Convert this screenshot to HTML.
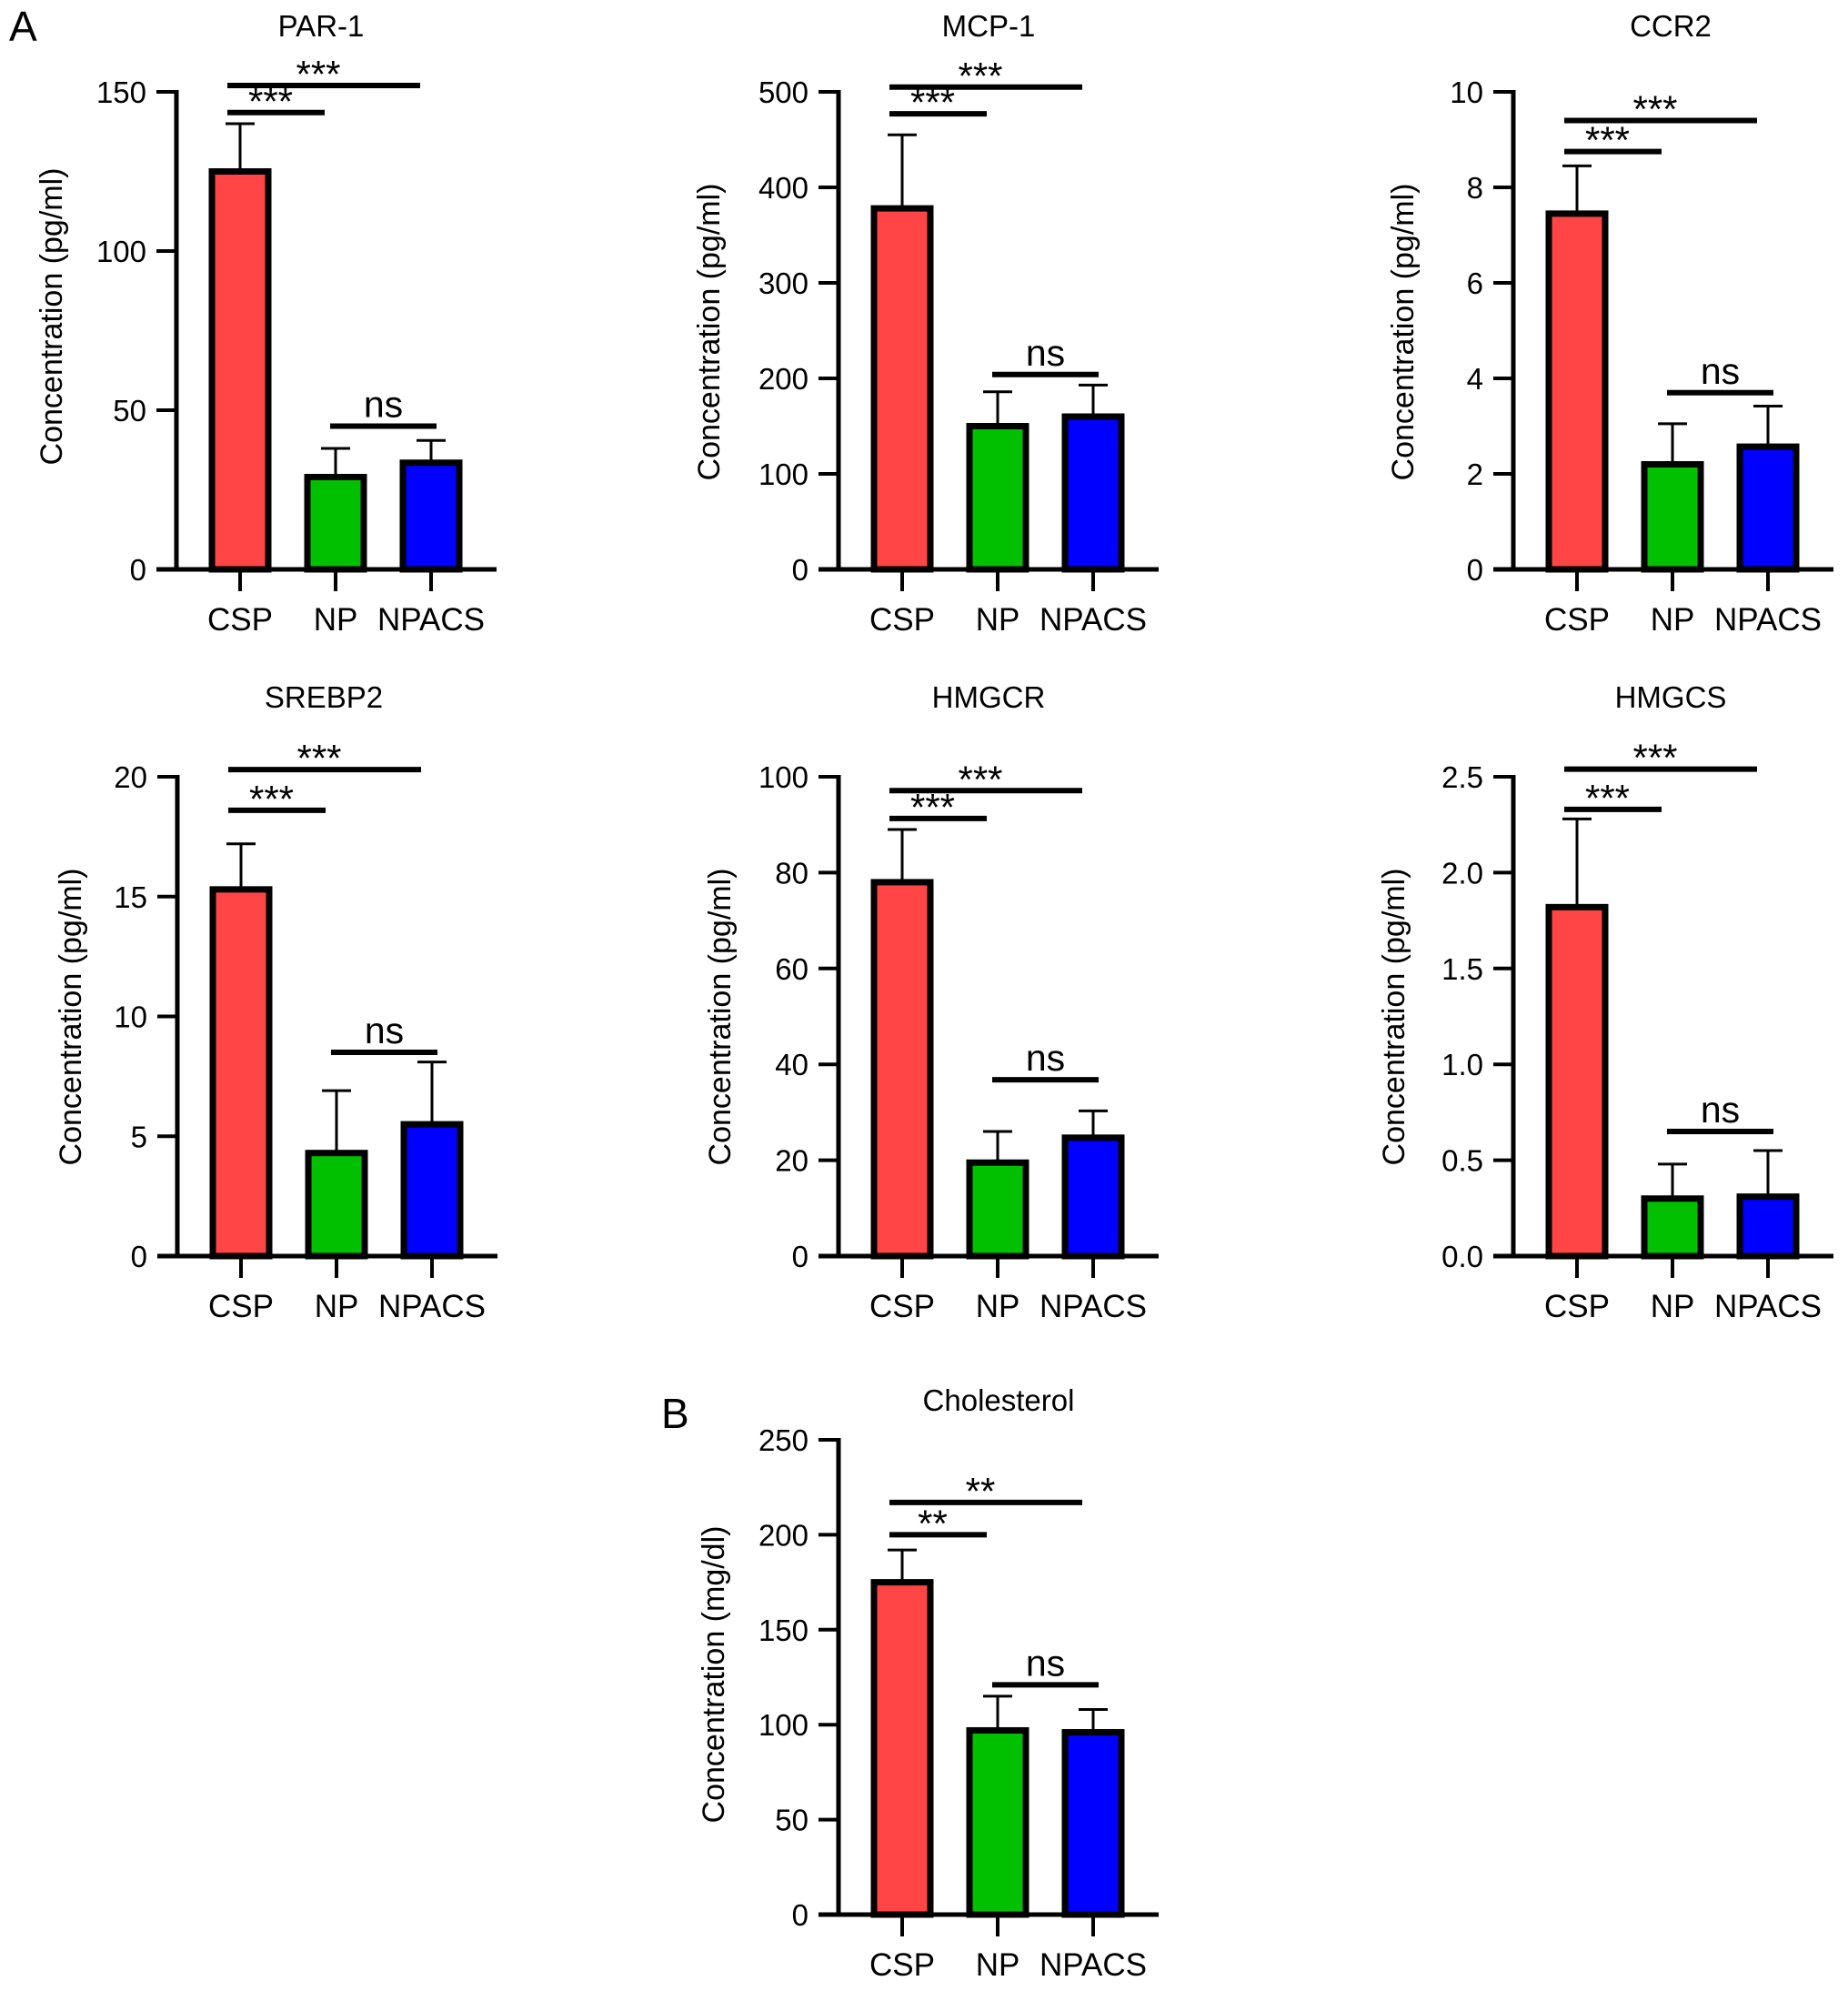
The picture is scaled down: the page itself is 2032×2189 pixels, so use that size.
<!DOCTYPE html>
<html><head><meta charset="utf-8"><style>
html,body{margin:0;padding:0;background:#fff;}
svg{display:block;font-family:"Liberation Sans",Arial,sans-serif;}
</style></head><body>
<svg id="fig" width="2032" height="2189" viewBox="0 0 2032 2189">
<text x="10" y="45" font-size="46">A</text>
<text x="727" y="1570" font-size="46">B</text>
</svg>
<script>
const categories = ["CSP", "NP", "NPACS"];
const barColors = ["#ff4545", "#00c000", "#0000ff"];
const panelTitles = ["PAR-1", "MCP-1", "CCR2", "SREBP2", "HMGCR", "HMGCS", "Cholesterol"];
const yTitles = ["Concentration (pg/ml)", "Concentration (pg/ml)", "Concentration (pg/ml)", "Concentration (pg/ml)", "Concentration (pg/ml)", "Concentration (pg/ml)", "Concentration (mg/dl)"];
const yMaxes = [150, 500, 10, 20, 100, 2.5, 250];
const yTickLabels = [
  ["0","50","100","150"],
  ["0","100","200","300","400","500"],
  ["0","2","4","6","8","10"],
  ["0","5","10","15","20"],
  ["0","20","40","60","80","100"],
  ["0.0","0.5","1.0","1.5","2.0","2.5"],
  ["0","50","100","150","200","250"]
];
const meansPAR1 = [125, 29, 33.5];
const meansMCP1 = [378, 150, 160];
const meansCCR2 = [7.45, 2.2, 2.57];
const meansSREBP2 = [15.3, 4.3, 5.5];
const meansHMGCR = [78, 19.5, 24.7];
const meansHMGCS = [1.82, 0.3, 0.31];
const meansChol = [175, 97, 96];
const errPAR1 = [15, 9, 7];
const errMCP1 = [77, 36, 33];
const errCCR2 = [1.0, 0.85, 0.85];
const errSREBP2 = [1.9, 2.6, 2.6];
const errHMGCR = [11, 6.5, 5.6];
const errHMGCS = [0.46, 0.18, 0.24];
const errChol = [17, 18, 12];
// significance bracket heights: [CSP-NP, CSP-NPACS, NP-NPACS]
const sigPAR1 = [143.5, 152, 45];
const sigMCP1 = [477, 505, 204];
const sigCCR2 = [8.75, 9.4, 3.7];
const sigSREBP2 = [18.6, 20.3, 8.5];
const sigHMGCR = [91.3, 97.1, 36.8];
const sigHMGCS = [2.33, 2.54, 0.65];
const sigChol = [200, 217, 121];
const sigLabels = [
  ["***","***","ns"],["***","***","ns"],["***","***","ns"],["***","***","ns"],
  ["***","***","ns"],["***","***","ns"],["**","**","ns"]
];
const allMeans = [meansPAR1, meansMCP1, meansCCR2, meansSREBP2, meansHMGCR, meansHMGCS, meansChol];
const allErrs = [errPAR1, errMCP1, errCCR2, errSREBP2, errHMGCR, errHMGCS, errChol];
const allSigs = [sigPAR1, sigMCP1, sigCCR2, sigSREBP2, sigHMGCR, sigHMGCS, sigChol];

const layout = [
  {ax:194, top:101, bot:626, tx:353, ty:40, ytx:56, yty:348},
  {ax:922, top:101, bot:626, tx:1087, ty:40, ytx:779, yty:365},
  {ax:1664, top:101, bot:626, tx:1837, ty:40, ytx:1542, yty:365},
  {ax:195, top:854, bot:1381, tx:356, ty:778, ytx:77, yty:1118},
  {ax:922, top:854, bot:1381, tx:1087, ty:778, ytx:791, yty:1118},
  {ax:1664, top:854, bot:1381, tx:1837, ty:778, ytx:1532, yty:1118},
  {ax:922, top:1583, bot:2105, tx:1098, ty:1551, ytx:784, yty:1841}
];
const NS = "http://www.w3.org/2000/svg";
const svg = document.getElementById("fig");
function mk(tag, attrs, parent){
  const e = document.createElementNS(NS, tag);
  for (const k in attrs) e.setAttribute(k, attrs[k]);
  (parent||svg).appendChild(e);
  return e;
}
const slug = t => t.toLowerCase().replace(/[^a-z0-9]+/g, "-");
panelTitles.forEach((title, p) => {
  const L = layout[p];
  const yScale = v => L.bot - (v / yMaxes[p]) * (L.bot - L.top);
  const xCenter = i => L.ax + 70 + i * 105;
  const g = mk("g", {});
  
  
  const t = mk("text", {x:L.tx, y:L.ty, "font-size":33, "text-anchor":"middle"}, g);
  t.textContent = title;
  
  
  const yt = mk("text", {x:0, y:0, "font-size":34, "text-anchor":"middle", transform:`translate(${L.ytx + 12},${L.yty}) rotate(-90)`}, g);
  yt.textContent = yTitles[p];
  
  
  allMeans[p].forEach((m, i) => {
    const cx = xCenter(i);
    const yTop = yScale(m);
    const eTop = yScale(m + allErrs[p][i]);
    const el = mk("line", {x1:cx, x2:cx, y1:yTop, y2:eTop, stroke:"#000", "stroke-width":3}, g);
    
    
    const cap = mk("line", {x1:cx - 16, x2:cx + 16, y1:eTop, y2:eTop, stroke:"#000", "stroke-width":3}, g);
    
    
    const r = mk("rect", {x:cx - 31, y:yTop, width:62, height:L.bot - yTop, fill:barColors[i], stroke:"#000", "stroke-width":7}, g);
    
    
    const tk = mk("line", {x1:cx, x2:cx, y1:L.bot, y2:L.bot + 24, stroke:"#000", "stroke-width":4}, g);
    
    
    const lb = mk("text", {x:cx, y:L.bot + 67, "font-size":35, "text-anchor":"middle"}, g);
    lb.textContent = categories[i];
    
    
  });
  const ya = mk("line", {x1:L.ax, x2:L.ax, y1:L.top - 2, y2:L.bot + 2, stroke:"#000", "stroke-width":5}, g);
  
  
  const xa = mk("line", {x1:L.ax - 22, x2:L.ax + 352, y1:L.bot, y2:L.bot, stroke:"#000", "stroke-width":5}, g);
  
  
  const labs = yTickLabels[p];
  labs.forEach((lab, k) => {
    const v = yMaxes[p] * k / (labs.length - 1);
    const y = yScale(v);
    const tl = mk("line", {x1:L.ax - 22, x2:L.ax, y1:y, y2:y, stroke:"#000", "stroke-width":4}, g);
    
    
    const tt = mk("text", {x:L.ax - 33, y:y + 12, "font-size":33, "text-anchor":"end"}, g);
    tt.textContent = lab;
    
    
  });
  const pairs = [[0,1],[0,2],[1,2]];
  allSigs[p].forEach((sv, k) => {
    const [a, b] = pairs[k];
    const y = yScale(sv);
    let x1, x2;
    if (k < 2) { x1 = xCenter(a) - 14; x2 = xCenter(b) - 12; }
    else { x1 = xCenter(a) - 6; x2 = xCenter(b) + 6; }
    const ln = mk("line", {x1:x1, x2:x2, y1:y, y2:y, stroke:"#000", "stroke-width":6}, g);
    
    
    const lab = sigLabels[p][k];
    const st = mk("text", {x:(x1 + x2) / 2 - (lab === "ns" ? 0 : 6), y: lab === "ns" ? y - 10 : y + 2, "font-size": lab === "ns" ? 41 : 42, "text-anchor":"middle"}, g);
    st.textContent = lab;
    
    
  });
});
</script>
</body></html>
